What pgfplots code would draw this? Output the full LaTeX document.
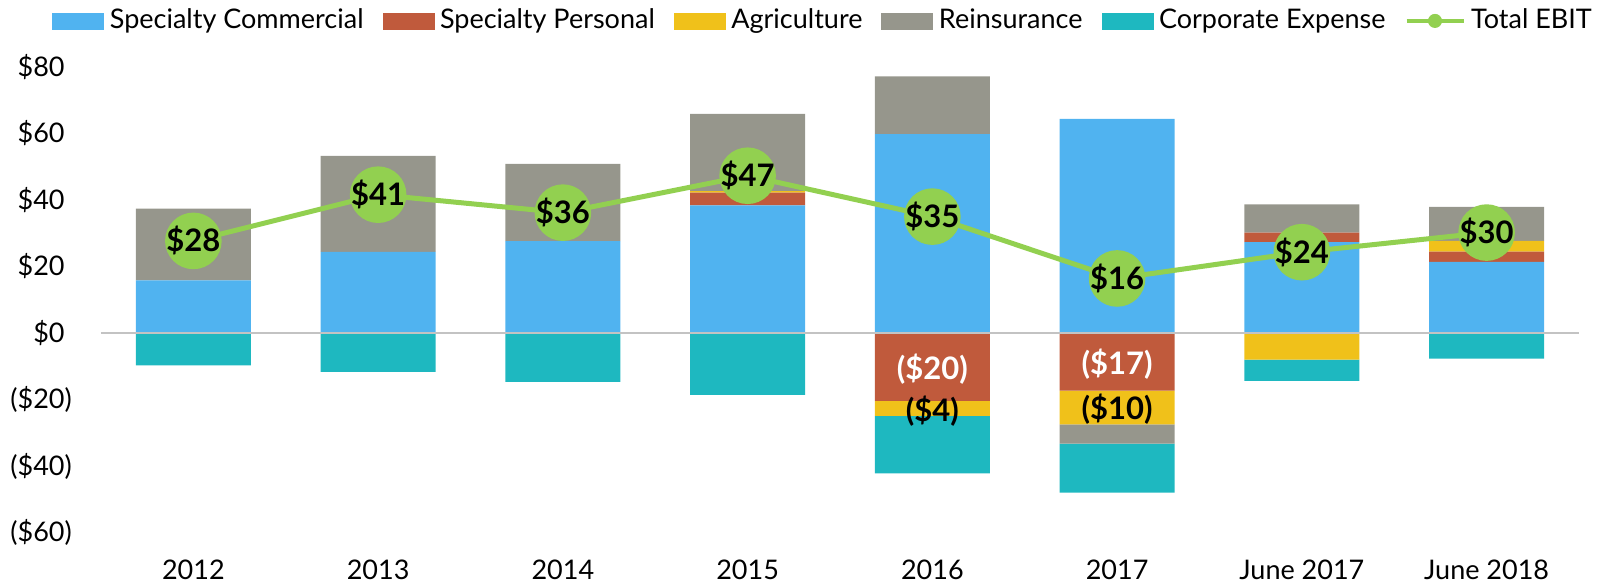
\documentclass[border=0pt]{standalone}
\usepackage{pgfplots}
\pgfplotsset{compat=1.18}
\usepackage{fontspec}
\setmainfont{Lato}

\definecolor{cBlue}{RGB}{80,179,240}
\definecolor{cRed}{RGB}{192,90,60}
\definecolor{cYellow}{RGB}{240,193,26}
\definecolor{cGray}{RGB}{150,150,140}
\definecolor{cTeal}{RGB}{30,184,192}
\definecolor{cGreen}{RGB}{146,208,80}
\definecolor{cZero}{RGB}{195,195,195}

\pgfplotsset{
  base/.style={
    scale only axis, width=739pt, height=232.75pt,
    xmin=-0.5, xmax=7.5, ymin=-60, ymax=80,
    at={(0,0)}, anchor=south west,
  },
  seg/.style={fill=#1, draw=none},
}
\tikzset{lbl/.style={anchor=center, font=\fontsize{15.5}{18}\selectfont\bfseries, text=#1, inner sep=0pt}}

\begin{document}
\fontsize{13.5}{16}\selectfont
\begin{tikzpicture}
% stacked bars: positive and negative parts stack separately
\begin{axis}[base, ybar stacked, bar width=57.5pt,
  axis line style={draw=none}, tick style={draw=none},
  xtick={0,...,7},
  xticklabels={2012,2013,2014,2015,2016,2017,June 2017,June 2018},
  ytick={-60,-40,...,80},
  yticklabels={{(\$60\rlap{)}},{(\$40\rlap{)}},{(\$20\rlap{)}},\$0,\$20,\$40,\$60,\$80},
  xticklabel style={anchor=north, inner sep=0pt, yshift=-13.75pt},
  yticklabel style={anchor=east, inner sep=0pt, xshift=-18pt},
]
% Specialty Commercial
\addplot[seg=cBlue] coordinates {(0,15.8) (1,24.4) (2,27.6) (3,38.4) (4,59.8) (5,64.4) (6,27.3) (7,21.4)};
% Specialty Personal
\addplot[seg=cRed] coordinates {(0,0) (1,0) (2,0) (3,3.8) (4,-20.4) (5,-17.3) (6,2.9) (7,3.1)};
% Agriculture
\addplot[seg=cYellow] coordinates {(0,0) (1,0) (2,0) (3,0.5) (4,-4.5) (5,-10.2) (6,-8.0) (7,3.2)};
% Reinsurance
\addplot[seg=cGray] coordinates {(0,21.6) (1,28.9) (2,23.3) (3,23.2) (4,17.4) (5,-5.8) (6,8.5) (7,10.2)};
% Corporate Expense
\addplot[seg=cTeal] coordinates {(0,-9.7) (1,-11.7) (2,-14.7) (3,-18.6) (4,-17.3) (5,-14.7) (6,-6.4) (7,-7.7)};
\end{axis}

% overlay: zero line, total EBIT, labels, legend
\begin{axis}[base, hide axis,
  legend columns=6,
  legend style={draw=none, fill=none, at={(-0.0372,1.099)}, anchor=west,
    nodes={inner sep=0pt},
    /tikz/every odd column/.append style={column sep=2.85pt},
    /tikz/every even column/.append style={column sep=9.5pt}},
]
\draw[cZero, line width=1pt] (axis cs:-0.5,0) -- (axis cs:7.5,0);
\addlegendimage{legend image code/.code={\fill[cBlue] (0pt,-4pt) rectangle (25.5pt,4pt);}}
\addlegendentry{Specialty Commercial}
\addlegendimage{legend image code/.code={\fill[cRed] (0pt,-4pt) rectangle (25.5pt,4pt);}}
\addlegendentry{Specialty Personal}
\addlegendimage{legend image code/.code={\fill[cYellow] (0pt,-4pt) rectangle (25.5pt,4pt);}}
\addlegendentry{Agriculture}
\addlegendimage{legend image code/.code={\fill[cGray] (0pt,-4pt) rectangle (25.5pt,4pt);}}
\addlegendentry{Reinsurance}
\addlegendimage{legend image code/.code={\fill[cTeal] (0pt,-4pt) rectangle (25.5pt,4pt);}}
\addlegendentry{Corporate Expense}
\addlegendimage{legend image code/.code={\draw[cGreen, line width=2pt] (0pt,0pt) -- (28.5pt,0pt); \fill[cGreen] (14.25pt,0pt) circle (3.3pt);}}
\addlegendentry{Total EBIT}

\addplot[cGreen, line width=2.5pt, mark=*, mark size=12.9pt,
  mark options={fill=cGreen, draw=none},
  nodes near coords, point meta=explicit symbolic,
  every node near coord/.append style={lbl=black}]
  coordinates {(0,27.7)[\$28] (1,41.6)[\$41] (2,36.2)[\$36] (3,47.3)[\$47]
               (4,35.0)[\$35] (5,16.4)[\$16] (6,24.3)[\$24] (7,30.2)[\$30]};

\addplot[only marks, mark=none, nodes near coords, point meta=explicit symbolic,
  every node near coord/.append style={lbl=white}]
  coordinates {(4,-11.0)[(\$20)] (5,-9.4)[(\$17)]};
\addplot[only marks, mark=none, nodes near coords, point meta=explicit symbolic,
  every node near coord/.append style={lbl=black}]
  coordinates {(4,-23.4)[(\$4)] (5,-22.9)[(\$10)]};
\end{axis}
\pgfresetboundingbox
\useasboundingbox (-50.5pt,-27.25pt) rectangle (749pt,266.25pt);
\end{tikzpicture}
\end{document}
